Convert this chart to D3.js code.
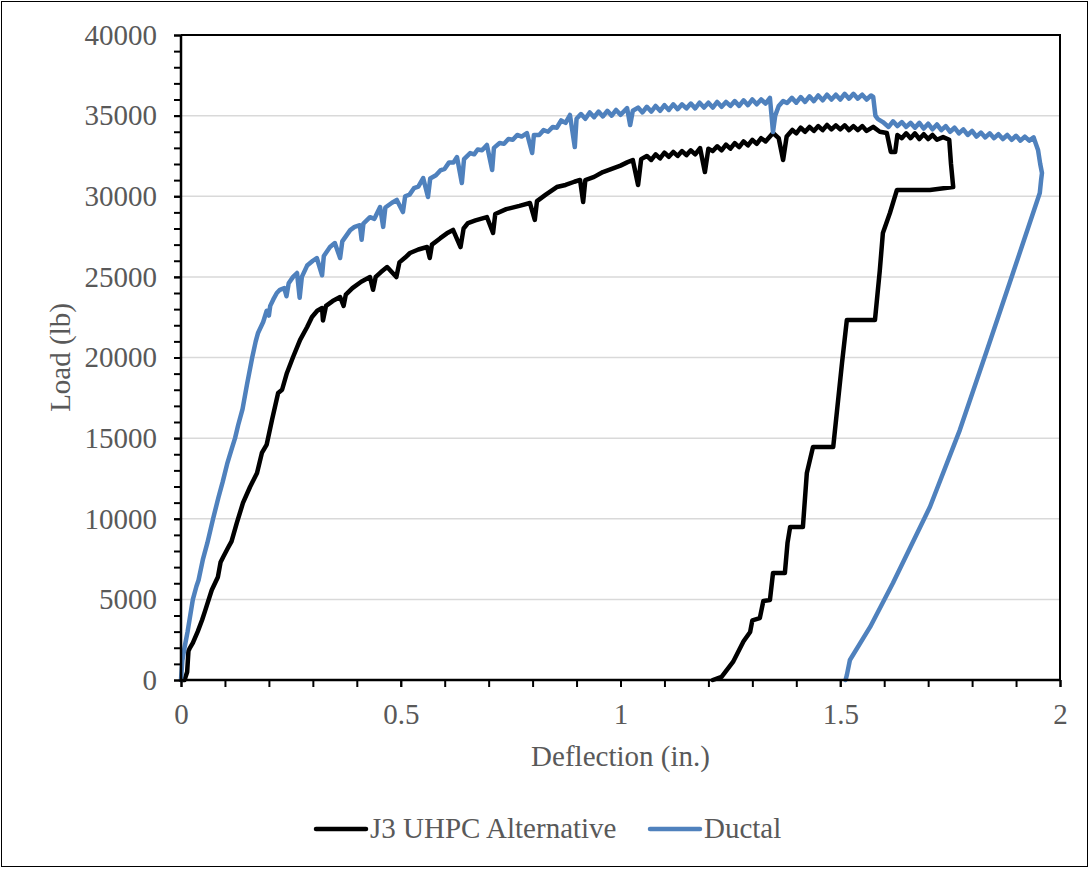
<!DOCTYPE html>
<head>
  <meta charset="utf-8">
  <script src="https://d3js.org/d3.v7.min.js"></script>
  <style>
    body { margin:0; background:#fff; }
    text { font-family: "Liberation Serif", "Times New Roman", serif; fill:#595959; }
  </style>
</head>
<body>
  <script>
    // [deflection (in.), load (lb)]
    var j3 = [
      [0,0],[0.008,0],[0.014,500],[0.017,1800],[0.02,1980],[0.027,2300],[0.038,3000],[0.048,3720],
      [0.055,4300],[0.07,5580],[0.084,6390],[0.09,7300],[0.096,7630],[0.107,8200],[0.115,8600],
      [0.127,9740],[0.141,10980],[0.157,11970],[0.173,12840],[0.184,14080],[0.195,14600],
      [0.207,16120],[0.221,17800],[0.23,18000],[0.241,19040],[0.255,20030],[0.271,21090],
      [0.287,21890],[0.298,22510],[0.31,22900],[0.321,23070],[0.323,22300],[0.33,23200],
      [0.345,23500],[0.362,23750],[0.37,23200],[0.375,23900],[0.39,24300],[0.41,24700],
      [0.43,24990],[0.437,24200],[0.443,25000],[0.455,25300],[0.469,25610],[0.49,24990],
      [0.497,25900],[0.51,26200],[0.521,26480],[0.54,26700],[0.56,26850],[0.566,26170],
      [0.571,27000],[0.59,27400],[0.605,27700],[0.619,27910],[0.636,26850],[0.643,28000],
      [0.653,28340],[0.67,28500],[0.696,28710],[0.71,27720],[0.715,28900],[0.74,29200],
      [0.77,29400],[0.794,29580],[0.805,28530],[0.81,29700],[0.83,30100],[0.855,30570],
      [0.875,30700],[0.895,30900],[0.908,31010],[0.915,29640],[0.92,31000],[0.94,31200],
      [0.96,31500],[0.98,31700],[1.0,31900],[1.015,32100],[1.028,32250],[1.04,30700],
      [1.047,32300],[1.06,32500],[1.07,32250],[1.08,32600],[1.09,32350],[1.1,32700],
      [1.11,32450],[1.12,32750],[1.13,32500],[1.14,32800],[1.15,32550],[1.16,32850],
      [1.17,32600],[1.181,32990],[1.192,31500],[1.2,32950],[1.21,32800],[1.22,33100],
      [1.23,32850],[1.24,33200],[1.25,32950],[1.26,33300],[1.27,33050],[1.28,33400],
      [1.29,33150],[1.3,33500],[1.31,33250],[1.32,33600],[1.33,33400],[1.347,33920],
      [1.36,33600],[1.37,32250],[1.378,33700],[1.391,34110],[1.4,33900],[1.41,34250],
      [1.42,34000],[1.43,34300],[1.44,34050],[1.45,34350],[1.46,34100],[1.47,34420],
      [1.48,34150],[1.49,34400],[1.5,34150],[1.51,34400],[1.52,34100],[1.53,34350],
      [1.54,34100],[1.55,34350],[1.56,34050],[1.575,34300],[1.59,34000],[1.606,33920],
      [1.615,32750],[1.625,32740],[1.63,33800],[1.64,33600],[1.65,33900],[1.66,33600],
      [1.67,33900],[1.68,33550],[1.69,33850],[1.7,33550],[1.71,33800],[1.72,33500],
      [1.734,33670],[1.748,33500],[1.752,32000],[1.757,30570],[1.704,30390],[1.629,30390],
      [1.613,28960],[1.597,27720],[1.59,25400],[1.579,22330],[1.515,22330],[1.504,19660],
      [1.484,14450],[1.438,14450],[1.424,12840],[1.415,9490],[1.386,9490],[1.38,8500],
      [1.374,6640],[1.347,6640],[1.34,4960],[1.325,4900],[1.317,3840],[1.3,3700],
      [1.295,2980],[1.28,2400],[1.256,1120],[1.23,200],[1.21,0]
    ];

    var ductal = [
      [0,0],[0.003,1200],[0.008,2000],[0.015,3000],[0.027,5000],[0.035,5800],[0.04,6200],
      [0.05,7500],[0.06,8500],[0.073,10000],[0.085,11300],[0.095,12300],[0.105,13400],
      [0.115,14300],[0.123,15000],[0.13,15800],[0.14,16800],[0.15,18300],[0.162,20000],
      [0.17,21000],[0.175,21500],[0.187,22200],[0.195,22900],[0.2,22600],[0.203,23200],
      [0.21,23600],[0.218,24000],[0.225,24200],[0.235,24300],[0.24,23800],[0.245,24600],
      [0.255,25000],[0.264,25240],[0.27,23700],[0.275,25000],[0.287,25700],[0.3,26000],
      [0.309,26170],[0.321,25100],[0.325,26300],[0.339,26850],[0.35,27100],[0.362,26170],
      [0.367,27200],[0.385,27900],[0.395,28100],[0.407,28200],[0.411,27300],[0.415,28300],
      [0.43,28700],[0.44,28600],[0.453,29330],[0.46,28100],[0.465,29300],[0.48,29600],
      [0.491,29770],[0.505,29020],[0.51,30000],[0.52,30100],[0.53,30500],[0.54,30600],
      [0.551,31130],[0.562,29950],[0.567,31100],[0.58,31300],[0.59,31600],[0.6,31700],
      [0.61,32100],[0.62,32100],[0.628,32430],[0.639,30820],[0.644,32300],[0.658,32680],
      [0.667,32600],[0.675,32900],[0.685,32850],[0.696,33180],[0.708,31630],[0.712,33000],
      [0.725,33300],[0.735,33250],[0.745,33550],[0.755,33500],[0.765,33800],[0.775,33700],
      [0.787,33920],[0.799,32680],[0.803,33800],[0.815,33800],[0.825,34100],[0.835,34000],
      [0.846,34300],[0.855,34250],[0.865,34700],[0.875,34550],[0.885,35040],[0.896,33050],
      [0.9,34800],[0.91,35100],[0.92,34800],[0.93,35200],[0.94,34900],[0.95,35250],
      [0.96,34950],[0.97,35300],[0.98,35000],[0.99,35350],[1.0,35050],[1.015,35470],
      [1.022,34420],[1.028,35300],[1.04,35500],[1.05,35200],[1.06,35550],[1.07,35250],
      [1.08,35600],[1.09,35300],[1.1,35650],[1.11,35350],[1.12,35700],[1.13,35400],
      [1.14,35700],[1.15,35450],[1.16,35750],[1.17,35450],[1.18,35800],[1.19,35500],
      [1.2,35800],[1.21,35500],[1.22,35850],[1.23,35550],[1.24,35850],[1.25,35600],
      [1.26,35900],[1.27,35600],[1.28,35950],[1.29,35650],[1.3,36000],[1.31,35700],
      [1.32,36000],[1.33,35750],[1.34,36100],[1.347,33980],[1.352,35000],[1.36,35600],
      [1.37,35900],[1.379,35780],[1.39,36100],[1.4,35800],[1.41,36150],[1.42,35850],
      [1.43,36200],[1.44,35900],[1.45,36250],[1.46,35950],[1.47,36300],[1.48,36000],
      [1.49,36300],[1.5,36000],[1.51,36350],[1.52,36050],[1.53,36350],[1.54,36050],
      [1.55,36300],[1.56,36000],[1.57,36250],[1.575,36160],[1.58,35000],[1.585,34800],
      [1.597,34600],[1.61,34300],[1.62,34650],[1.63,34350],[1.64,34600],[1.65,34300],
      [1.66,34550],[1.67,34250],[1.68,34550],[1.69,34200],[1.7,34500],[1.71,34150],
      [1.72,34450],[1.73,34100],[1.74,34350],[1.75,34000],[1.76,34250],[1.77,33900],
      [1.78,34150],[1.79,33800],[1.8,34050],[1.81,33700],[1.82,33950],[1.83,33650],
      [1.84,33900],[1.85,33600],[1.86,33850],[1.87,33550],[1.88,33800],[1.89,33500],
      [1.9,33750],[1.91,33450],[1.92,33700],[1.93,33450],[1.94,33650],[1.95,32870],
      [1.955,32000],[1.959,31440],[1.957,31000],[1.954,30200],[1.893,25240],[1.834,20470],
      [1.772,15500],[1.704,10730],[1.62,6020],[1.568,3290],[1.522,1240],[1.515,300],[1.512,0]
    ];

    var seriesNames = ['J3 UHPC Alternative', 'Ductal'];
    var seriesColors = ['#000000', '#4f81bd'];
    var xTickLabels = [0, 0.5, 1, 1.5, 2];
    var yTickLabels = [0, 5000, 10000, 15000, 20000, 25000, 30000, 35000, 40000];

    var width = 1091, height = 869;
    var plotL = 181, plotR = 1060, plotT = 35, plotB = 680;
    var fontSize = '29px';

    var svg = d3.select('body').append('svg')
      .attr('width', width)
      .attr('height', height);

    // chart border
    svg.append('rect')
      .attr('x', 1.5).attr('y', 1.5)
      .attr('width', 1086).attr('height', 865)
      .attr('fill', 'none').attr('stroke', '#000').attr('stroke-width', 1);

    var x = d3.scaleLinear().domain([0, 2]).range([plotL, plotR]);
    var y = d3.scaleLinear().domain([0, 40000]).range([plotB, plotT]);

    // gridlines
    svg.append('g').selectAll('line')
      .data(yTickLabels.slice(1, -1))
      .enter().append('line')
      .attr('x1', plotL).attr('x2', plotR)
      .attr('y1', function(d) { return y(d); })
      .attr('y2', function(d) { return y(d); })
      .attr('stroke', '#d9d9d9').attr('stroke-width', 1.5);

    // plot area border (top + right)
    svg.append('path')
      .attr('d', 'M' + plotL + ',' + plotT + 'H' + plotR + 'V' + plotB)
      .attr('fill', 'none').attr('stroke', '#000').attr('stroke-width', 2);

    var line = d3.line()
      .x(function(d) { return x(d[0]); })
      .y(function(d) { return y(d[1]); });

    [j3, ductal].forEach(function(s, i) {
      svg.append('path')
        .datum(s)
        .attr('d', line)
        .attr('fill', 'none')
        .attr('stroke', seriesColors[i])
        .attr('stroke-width', 4.5)
        .attr('stroke-linejoin', 'round')
        .attr('stroke-linecap', 'round');
    });

    // minor ticks
    var yMinor = d3.range(0, 40001, 1000);
    var xMinor = d3.range(0, 21).map(function(i) { return i / 10; });

    svg.append('g')
      .attr('transform', 'translate(' + plotL + ',0)')
      .call(d3.axisLeft(y).tickValues(yMinor).tickSize(7).tickFormat(''))
      .call(function(g) {
        g.select('.domain').remove();
        g.selectAll('line').attr('stroke-width', 2);
      });

    svg.append('g')
      .attr('transform', 'translate(0,' + plotB + ')')
      .call(d3.axisBottom(x).tickValues(xMinor).tickSize(7).tickFormat(''))
      .call(function(g) {
        g.select('.domain').remove();
        g.selectAll('line').attr('stroke-width', 2);
      });

    // labelled axes
    var yAxis = svg.append('g')
      .attr('transform', 'translate(' + plotL + ',0)')
      .call(d3.axisLeft(y).tickValues(yTickLabels).tickSize(7).tickPadding(17).tickFormat(d3.format('d')));
    yAxis.select('.domain').attr('stroke-width', 2.5).attr('d', 'M0,' + plotT + 'V' + plotB);
    yAxis.selectAll('line').attr('stroke-width', 2);
    yAxis.selectAll('text').style('font-size', fontSize).attr('fill', '#595959');

    var xAxis = svg.append('g')
      .attr('transform', 'translate(0,' + plotB + ')')
      .call(d3.axisBottom(x).tickValues(xTickLabels).tickSize(7).tickPadding(16).tickFormat(d3.format('')));
    xAxis.select('.domain').attr('stroke-width', 2.5).attr('d', 'M' + plotL + ',0H' + plotR);
    xAxis.selectAll('line').attr('stroke-width', 2);
    xAxis.selectAll('text').style('font-size', fontSize).attr('fill', '#595959');

    // axis titles
    svg.append('text')
      .attr('x', (plotL + plotR) / 2)
      .attr('y', 766)
      .attr('text-anchor', 'middle')
      .style('font-size', fontSize)
      .text('Deflection (in.)');

    svg.append('text')
      .attr('transform', 'translate(70,' + ((plotT + plotB) / 2) + ') rotate(-90)')
      .attr('text-anchor', 'middle')
      .style('font-size', fontSize)
      .text('Load (lb)');

    // legend
    var legendX = [316, 650];
    var legend = svg.append('g').selectAll('g')
      .data(seriesNames)
      .enter().append('g')
      .attr('transform', function(d, i) { return 'translate(' + legendX[i] + ',829)'; });

    legend.append('line')
      .attr('x1', 0).attr('x2', 50)
      .attr('stroke', function(d, i) { return seriesColors[i]; })
      .attr('stroke-width', 4.5)
      .attr('stroke-linecap', 'round');

    legend.append('text')
      .attr('x', 54)
      .attr('y', 9)
      .style('font-size', fontSize)
      .text(function(d) { return d; });
  </script>
</body>
